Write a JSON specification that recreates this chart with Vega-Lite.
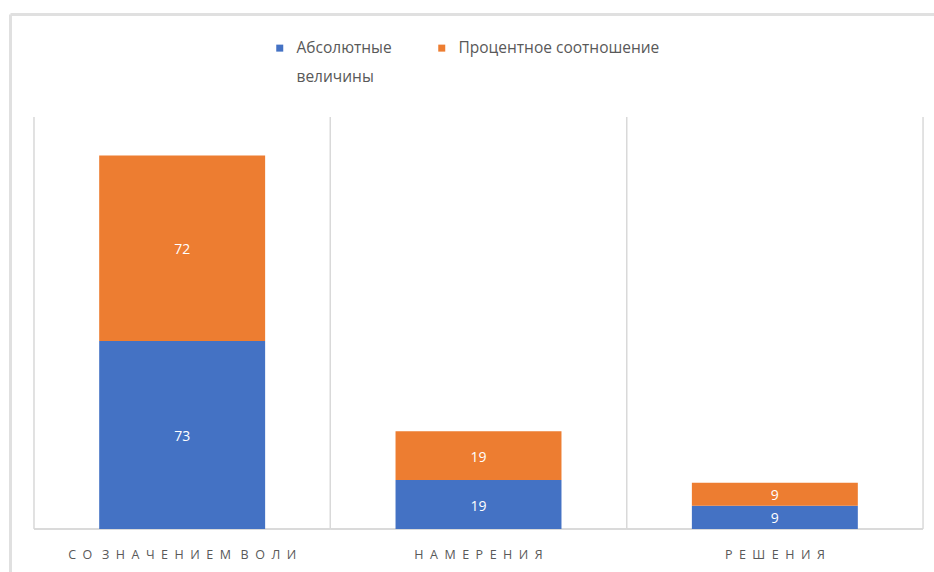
{
  "$schema": "https://vega.github.io/schema/vega-lite/v6.json",
  "width": 924,
  "height": 558,
  "autosize": {"type": "none"},
  "padding": {"left": 10, "top": 14, "right": 0, "bottom": 0},
  "background": "white",
  "config": {
    "view": {"stroke": null},
    "font": "Open Sans",
    "style": {"guide-label": {"lineHeight": 29, "dy": 5}}
  },
  "data": {
    "values": [
      {"cat": "СО ЗНАЧЕНИЕМ ВОЛИ", "series": "Абсолютные величины", "value": 73},
      {"cat": "СО ЗНАЧЕНИЕМ ВОЛИ", "series": "Процентное соотношение", "value": 72},
      {"cat": "НАМЕРЕНИЯ", "series": "Абсолютные величины", "value": 19},
      {"cat": "НАМЕРЕНИЯ", "series": "Процентное соотношение", "value": 19},
      {"cat": "РЕШЕНИЯ", "series": "Абсолютные величины", "value": 9},
      {"cat": "РЕШЕНИЯ", "series": "Процентное соотношение", "value": 9}
    ]
  },
  "layer": [
    {
      "mark": {"type": "rule", "color": "#d9d9d9", "strokeWidth": 1},
      "encoding": {
        "x": {"field": "cat", "type": "nominal", "sort": null, "bandPosition": 0,
          "scale": {"paddingInner": 0, "paddingOuter": 0.059, "align": 0.686},
          "axis": {"orient": "bottom", "offset": -31, "domain": false, "ticks": false, "grid": false, "title": null, "labelAngle": 0, "labelFont": "Open Sans", "labelFontSize": 12.5, "labelColor": "#595959", "labelPadding": 2, "labelLimit": 400, "labelOverlap": false, "labelExpr": "replace(join(split(datum.label, ''), '\u00a0\u00a0'), regexp('\u00a0\u00a0 \u00a0\u00a0', 'g'), '\u00a0 \u00a0')"}},
        "y": {"datum": 0, "type": "quantitative",
          "scale": {"domain": [-16.7, 200], "nice": false, "zero": false},
          "axis": {"values": [200], "labels": false, "ticks": false, "title": null, "domainColor": "#e0e0e0", "domainWidth": 3, "grid": true, "gridColor": "#e0e0e0", "gridWidth": 3}},
        "y2": {"datum": 160}
      }
    },
    {
      "mark": {"type": "rule", "color": "#d9d9d9", "strokeWidth": 1},
      "encoding": {
        "x": {"field": "cat", "type": "nominal", "sort": null, "bandPosition": 1},
        "y": {"datum": 0, "type": "quantitative"},
        "y2": {"datum": 160}
      }
    },
    {
      "mark": {"type": "rect", "fillOpacity": 0, "stroke": "#d9d9d9", "strokeWidth": 1},
      "encoding": {
        "x": {"field": "cat", "type": "nominal", "sort": null},
        "y": {"datum": 0, "type": "quantitative"},
        "y2": {"datum": 0}
      }
    },
    {
      "mark": {"type": "bar", "width": {"band": 0.56}},
      "encoding": {
        "x": {"field": "cat", "type": "nominal", "sort": null},
        "y": {"field": "value", "type": "quantitative", "stack": "zero"},
        "order": {"field": "series", "sort": "ascending"},
        "color": {"field": "series", "type": "nominal",
          "scale": {"domain": ["Абсолютные величины", "Процентное соотношение"], "range": ["#4472C4", "#ED7D31"]},
          "legend": {"orient": "none", "legendX": 262, "legendY": 26, "direction": "horizontal", "title": null, "symbolType": "square", "symbolSize": 49, "symbolStrokeWidth": 0, "labelFont": "Open Sans", "labelFontSize": 15.5, "labelColor": "#595959", "columnPadding": 42, "labelOffset": 9, "padding": 0, "labelBaseline": "alphabetic", "labelLimit": 400,
            "labelExpr": "datum.value == 'Абсолютные величины' ? ['Абсолютные', 'величины'] : [datum.label, '']"}}
      }
    },
    {
      "mark": {"type": "text", "color": "white", "fontSize": 14, "font": "Open Sans", "dy": 2},
      "encoding": {
        "x": {"field": "cat", "type": "nominal", "sort": null},
        "y": {"field": "value", "type": "quantitative", "stack": "zero", "bandPosition": 0.5},
        "detail": {"field": "series"},
        "order": {"field": "series", "sort": "ascending"},
        "text": {"field": "value", "type": "quantitative"}
      }
    }
  ]
}
